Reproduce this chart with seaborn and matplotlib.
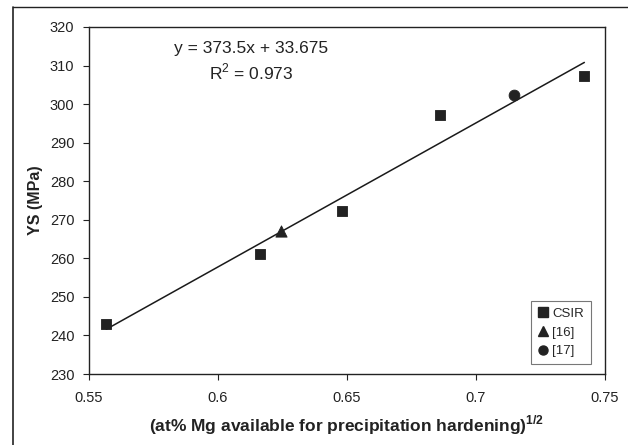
import matplotlib
matplotlib.use("Agg")
import matplotlib.pyplot as plt
import seaborn as sns
import numpy as np
import pandas as pd
from matplotlib.lines import Line2D

# Data
csir_x = [0.5567, 0.6164, 0.6480, 0.6859, 0.7420]
csir_y = [243.0, 261.1, 272.2, 297.2, 307.4]
ref16_x = [0.6246]
ref16_y = [267.0]
ref17_x = [0.7146]
ref17_y = [302.4]
slope = 373.5
intercept = 33.675
fit_x = [0.5567, 0.7420]
x_ticks = [0.55, 0.6, 0.65, 0.7, 0.75]
x_tick_labels = ["0.55", "0.6", "0.65", "0.7", "0.75"]
y_ticks = [230, 240, 250, 260, 270, 280, 290, 300, 310, 320]

sns.set_style("white")
plt.rcParams['font.family'] = ['Liberation Sans', 'DejaVu Sans']
plt.rcParams['mathtext.fontset'] = 'custom'
plt.rcParams['mathtext.rm'] = 'Liberation Sans'
plt.rcParams['mathtext.bf'] = 'Liberation Sans:bold'

fig = plt.figure(figsize=(6.28, 4.45), dpi=100)
ax = fig.add_axes([89/628, 1-374/445, (605-89)/628, (374-27)/445])

df_fit = pd.DataFrame({"x": fit_x, "y": [slope*v + intercept for v in fit_x]})
sns.lineplot(data=df_fit, x="x", y="y", ax=ax, color="#1a1a1a", lw=1.1)

mc = "#222222"
sns.scatterplot(x=csir_x, y=csir_y, marker="s", s=60, color=mc, edgecolor=mc, ax=ax, zorder=3)
sns.scatterplot(x=ref16_x, y=ref16_y, marker="^", s=65, color=mc, edgecolor=mc, ax=ax, zorder=3)
sns.scatterplot(x=ref17_x, y=ref17_y, marker="o", s=60, color=mc, edgecolor=mc, ax=ax, zorder=3)

ax.set_xlim(0.55, 0.75)
ax.set_ylim(230, 320)
ax.set_xticks(x_ticks)
ax.set_xticklabels(x_tick_labels)
ax.set_yticks(y_ticks)
ax.tick_params(axis="both", direction="out", length=4.5, width=0.8, labelsize=10.5,
               colors="#222222", left=True, bottom=True)
ax.tick_params(axis="x", pad=8)
ax.tick_params(axis="y", pad=6)
for s in ax.spines.values():
    s.set_color("#222222")
    s.set_linewidth(1.0)

ax.set_xlabel(r"(at% Mg available for precipitation hardening)$^{\mathbf{1/2}}$",
              fontsize=12.5, fontweight="bold", color="#222222", labelpad=6)
ax.set_ylabel("YS (MPa)", fontsize=11.5, fontweight="bold", color="#222222", labelpad=5)

fig.text(251/628, 1-48/445, "y = 373.5x + 33.675",
         ha="center", va="center", fontsize=12.5, color="#222222")
fig.text(251/628, 1-72/445, r"R$^2$ = 0.973",
         ha="center", va="center", fontsize=12.5, color="#222222")

handles = [Line2D([], [], marker="s", ls="", color=mc, markersize=6.5),
           Line2D([], [], marker="^", ls="", color=mc, markersize=7),
           Line2D([], [], marker="o", ls="", color=mc, markersize=6.5)]
leg = ax.legend(handles, ["CSIR", "[16]", "[17]"], loc="lower right",
                bbox_to_anchor=(0.985, 0.01), fontsize=9.5, frameon=True, fancybox=False,
                edgecolor="#555555", handlelength=0.8, handletextpad=0.3,
                borderpad=0.5, labelspacing=0.5)
leg.get_frame().set_linewidth(0.8)

# outer frame lines of the original figure
fig.add_artist(Line2D([13/628, 13/628], [0, 1-7/445], transform=fig.transFigure, color="#222222", lw=1.2))
fig.add_artist(Line2D([13/628, 1], [1-7/445, 1-7/445], transform=fig.transFigure, color="#222222", lw=1.0))

fig.savefig("out.png", dpi=100)
